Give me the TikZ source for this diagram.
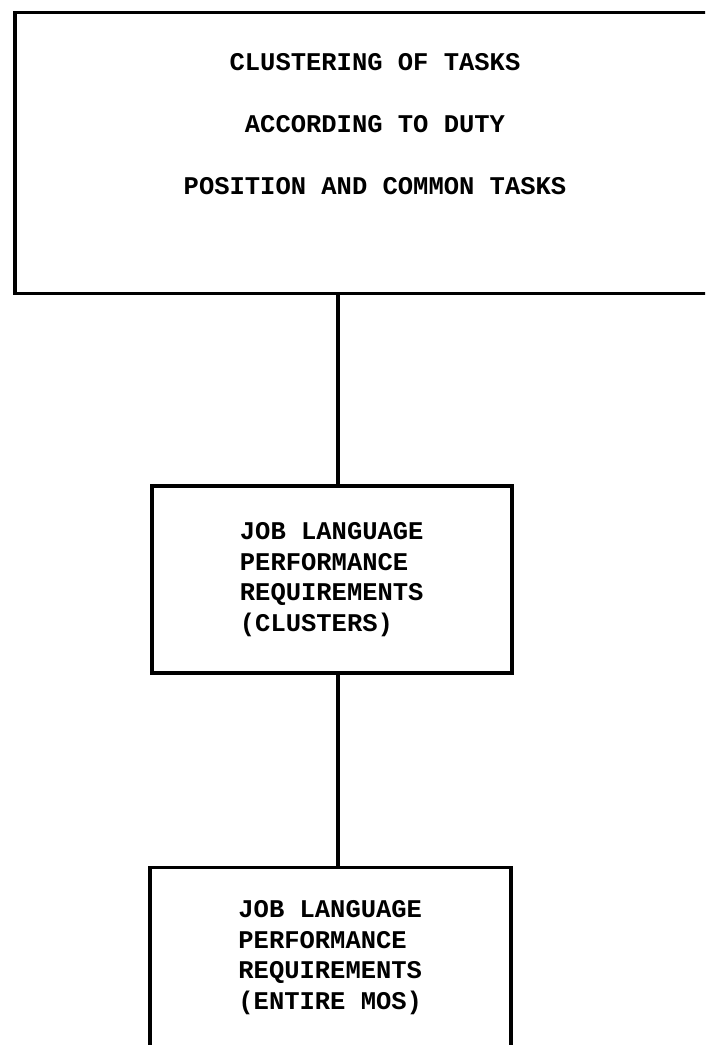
\documentclass[tikz,border=0pt]{standalone}
\usepackage{fontspec}
\newfontfamily\typewriter{Liberation Mono}
\usetikzlibrary{positioning}

\begin{document}
\begin{tikzpicture}[x=1pt, y=1pt, line width=3.5pt, node distance=189pt,
  box/.style={draw, rectangle, inner sep=0pt},
  typed/.style={font=\typewriter\bfseries\fontsize{25.5}{30.5}\selectfont},
  typedwide/.style={font=\typewriter\bfseries\fontsize{25.5}{62}\selectfont}]
\useasboundingbox (0,0) rectangle (705,1045);
\clip (0,0) rectangle (705,1045);
% Cajas
\node[box, minimum width=714pt, minimum height=281pt, anchor=north west] (cluster) at (13,1034) {};
\node[typedwide, align=center] (clustertext) at (375,921) {CLUSTERING OF TASKS\\ACCORDING TO DUTY\\POSITION AND COMMON TASKS};
\node[box, typed, align=left, minimum width=360pt, minimum height=187pt, below=189pt of cluster.south, xshift=-40pt] (jlprc) {JOB LANGUAGE\\PERFORMANCE\\REQUIREMENTS\\(CLUSTERS)};
\node[box, typed, align=left, minimum width=361pt, minimum height=180pt, below=191pt of jlprc, xshift=-1.5pt] (jlprm) {JOB LANGUAGE\\PERFORMANCE\\REQUIREMENTS\\(ENTIRE MOS)};
% Conexiones
\coordinate (spine) at (338,0);
\draw (spine |- cluster.south) -- (spine |- jlprc.north);
\draw (spine |- jlprc.south) -- (spine |- jlprm.north);
\end{tikzpicture}
\end{document}
